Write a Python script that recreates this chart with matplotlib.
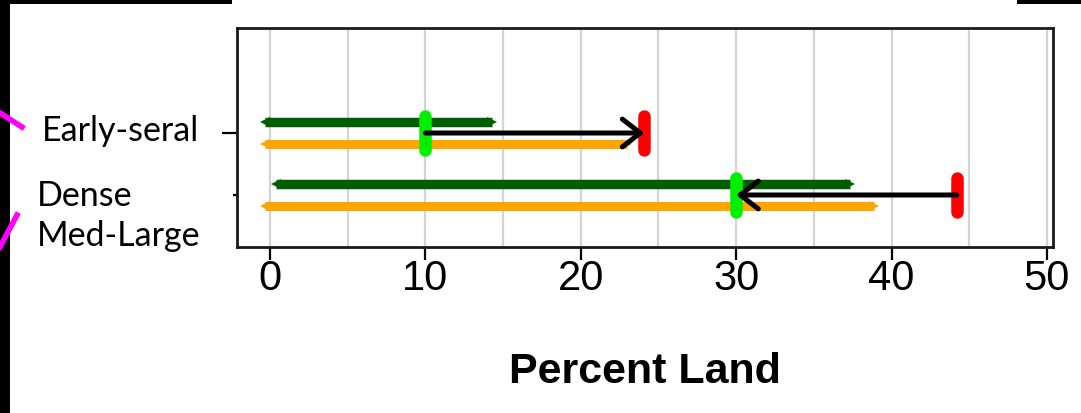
import matplotlib
matplotlib.use("Agg")
import matplotlib.pyplot as plt
from matplotlib.patches import Rectangle
from matplotlib.lines import Line2D
from matplotlib.ticker import MultipleLocator

# ---- data ----
categories = ["Early-seral", "Dense\nMed-Large"]
cat_pos = [1, 0]
green_lo = [-0.3, 0.4]     # reference (dark green) range
green_hi = [14.3, 37.3]
orange_lo = [-0.3, -0.3]   # current (orange) range
orange_hi = [23.0, 38.9]
lime_val = [10.0, 30.0]    # target (bright green)
red_val = [24.1, 44.2]     # current (red)
xticks = [0, 10, 20, 30, 40, 50]
xlabel = "Percent Land"

W, H = 1081, 413
fig = plt.figure(figsize=(W / 100, H / 100), dpi=100)
fig.patch.set_facecolor("black")

def px(x0, y0, x1, y1):
    return (x0 / W, 1 - y1 / H, (x1 - x0) / W, (y1 - y0) / H)

# white panel
for r in [px(10, 4, W, H), px(232, 0, 1017, 5)]:
    fig.patches.append(Rectangle(r[:2], r[2], r[3], transform=fig.transFigure,
                                 facecolor="white", edgecolor="none", zorder=-10))

ax = fig.add_axes([237 / W, 1 - 247 / H, (1053 - 237) / W, (247 - 28) / H])
ax.set_zorder(5)
ax.set_xlim(-2.12, 50.39)
ax.set_ylim(-0.839, 2.694)

ax.set_xticks(xticks)
ax.xaxis.set_minor_locator(MultipleLocator(5))
ax.grid(axis="x", which="both", color="#d4d4d4", lw=1.6, zorder=0)
ax.set_axisbelow(True)
ax.tick_params(axis="x", which="major", length=9, width=1.6, pad=0,
               labelsize=30)
ax.tick_params(axis="x", which="minor", length=0)
for lab in ax.get_xticklabels():
    lab.set_fontfamily("Liberation Sans")
ax.set_xlabel(xlabel, fontsize=31, fontweight="bold", family="Liberation Sans",
              labelpad=38)

ax.set_yticks([1])
ax.set_yticklabels([""])
ax.set_yticks([0], minor=True)
ax.tick_params(axis="y", which="major", length=11, width=1.6)
ax.tick_params(axis="y", which="minor", length=3, width=1.6)
for s in ax.spines.values():
    s.set_linewidth(2.0)
    s.set_color("#1a1a1a")

dgreen = "#005e00"
orange = "#ffa500"
off = 0.17
for i, y in enumerate(cat_pos):
    ax.plot([green_lo[i], green_hi[i]], [y + off, y + off], color=dgreen,
            lw=6.8, solid_capstyle="butt", zorder=3)
    ax.plot([green_lo[i]], [y + off], marker="<", color=dgreen, ms=7, mew=0, zorder=3)
    ax.plot([green_hi[i]], [y + off], marker=">", color=dgreen, ms=7, mew=0, zorder=3)
    ax.plot([orange_lo[i], orange_hi[i]], [y - off, y - off], color=orange,
            lw=6.5, solid_capstyle="butt", zorder=3)
    ax.plot([orange_lo[i]], [y - off], marker="<", color=orange, ms=7, mew=0, zorder=3)
    ax.plot([orange_hi[i]], [y - off], marker=">", color=orange, ms=7, mew=0, zorder=3)
    ax.plot([lime_val[i]] * 2, [y - 0.27, y + 0.27], color="#00f000", lw=9,
            solid_capstyle="round", zorder=4)
    ax.plot([red_val[i]] * 2, [y - 0.27, y + 0.27], color="#ff0000", lw=9,
            solid_capstyle="round", zorder=4)
    ax.annotate("", xy=(red_val[i] if i == 0 else lime_val[i], y),
                xytext=(lime_val[i] if i == 0 else red_val[i], y),
                arrowprops=dict(arrowstyle="->,head_length=1.3,head_width=1.0",
                                lw=3.6, color="black", shrinkA=0, shrinkB=0),
                zorder=5)

# left category labels (overlay)
fig.text(42 / W, 1 - 131 / H, "Early-seral", fontsize=24.5, family="Lato",
         va="center", ha="left", zorder=6)
fig.text(37 / W, 1 - 216 / H, "Dense\nMed-Large", fontsize=24.5, family="Lato",
         va="center", ha="left", linespacing=1.3, zorder=6)

# magenta pointer lines
fig.lines.append(Line2D([0, 22 / W], [1 - 113 / H, 1 - 127 / H],
                        transform=fig.transFigure, color="#ff00ff", lw=4, zorder=6))
fig.lines.append(Line2D([0, 17 / W], [1 - 247 / H, 1 - 215 / H],
                        transform=fig.transFigure, color="#ff00ff", lw=4, zorder=6))

fig.savefig("out.png", dpi=100, facecolor=fig.get_facecolor())
